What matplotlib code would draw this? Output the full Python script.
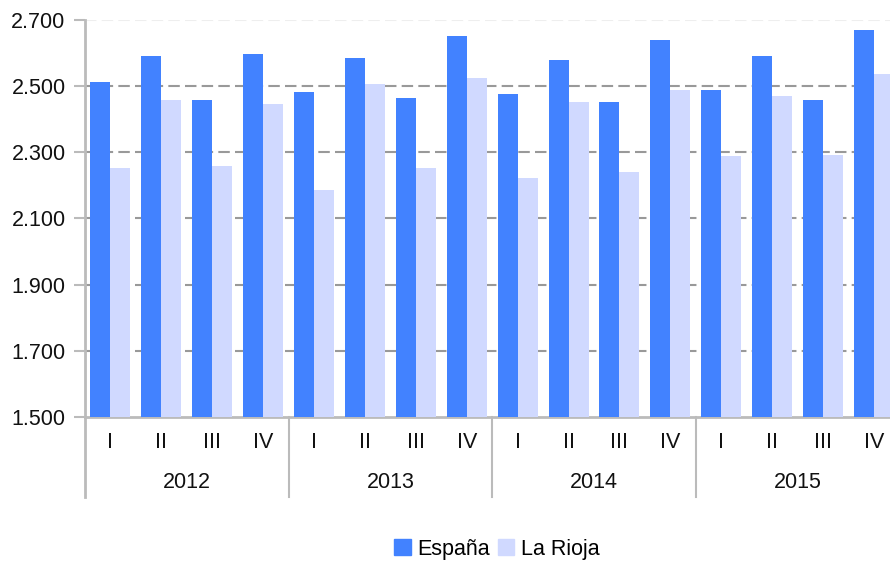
import matplotlib
matplotlib.use("Agg")
import matplotlib.pyplot as plt
from matplotlib.lines import Line2D
from matplotlib.patches import Patch
import numpy as np

plt.rcParams['font.family'] = ['Liberation Sans', 'DejaVu Sans']

years = ["2012", "2013", "2014", "2015"]
quarters = ["I", "II", "III", "IV"]
espana = [2513, 2591, 2458, 2597,
          2482, 2585, 2464, 2653,
          2475, 2579, 2452, 2640,
          2488, 2591, 2458, 2670]
la_rioja = [2253, 2458, 2260, 2446,
            2186, 2507, 2253, 2525,
            2222, 2452, 2241, 2488,
            2289, 2470, 2293, 2537]
yticks = [1500, 1700, 1900, 2100, 2300, 2500, 2700]
ytick_labels = ["1.500", "1.700", "1.900", "2.100", "2.300", "2.500", "2.700"]

W, H = 890, 563
fig = plt.figure(figsize=(W / 100, H / 100), dpi=100)
left_px, right_px, top_px, bot_px = 85, 890, 20, 417
ax = fig.add_axes([left_px / W, (H - bot_px) / H, (right_px - left_px) / W, (bot_px - top_px) / H])

FS = 15.5
cat_w = 50.9
n = len(espana)
x = np.arange(n)
bw = 20 / cat_w
c_es = "#4282FF"
c_lr = "#D0D9FF"
ax.bar(x - bw / 2, espana, width=bw, color=c_es, zorder=3, label="España")
ax.bar(x + bw / 2, la_rioja, width=bw, color=c_lr, zorder=3, label="La Rioja")

ax.set_ylim(1500, 2700)
ax.set_xlim(-0.5, -0.5 + (right_px - left_px) / cat_w)

for v in yticks[1:-1]:
    ax.axhline(v, color="#999999", lw=1.5, ls=(0, (5.5, 2.5)), zorder=1)
ax.axhline(2700, color="#eeeeee", lw=1.5, ls=(0, (5.5, 2.5)), zorder=1)

ax.set_yticks(yticks)
ax.set_yticklabels(ytick_labels, fontsize=FS, color="#111111")
ax.tick_params(axis="y", length=8, width=1.5, color="#bbbbbb", pad=6)
ax.set_xticks([])

for s in ["top", "right"]:
    ax.spines[s].set_visible(False)
ax.spines["left"].set_color("#bbbbbb")
ax.spines["left"].set_linewidth(2)
ax.spines["bottom"].set_color("#bbbbbb")
ax.spines["bottom"].set_linewidth(2)

ext = 80 / (bot_px - top_px)
trans = ax.get_xaxis_transform()
ax.add_line(Line2D([-0.5, -0.5], [0, -ext], transform=trans, color="#bbbbbb", lw=2, clip_on=False))
for i in range(1, len(years)):
    xs = i * 4 - 0.5
    ax.add_line(Line2D([xs, xs], [0, -ext], transform=trans, color="#bbbbbb", lw=1.5, clip_on=False))

q_y = -(442 - bot_px) / (bot_px - top_px)
y_y = -(483 - bot_px) / (bot_px - top_px)
for i in range(n):
    ax.text(x[i], q_y, quarters[i % 4], transform=trans, ha="center", va="center",
            fontsize=FS, color="#111111", clip_on=False)
for j, yr in enumerate(years):
    ax.text(j * 4 + 1.5, y_y, yr, transform=trans, ha="center", va="center",
            fontsize=FS, color="#111111", clip_on=False)

handles = [Patch(color=c_es), Patch(color=c_lr)]
fig.legend(handles, ["España", "La Rioja"], loc="center",
           bbox_to_anchor=(497 / W, 1 - 549 / H), ncol=2, frameon=False,
           fontsize=FS, handlelength=0.75, handleheight=0.75, handletextpad=0.3,
           columnspacing=0.4, borderpad=0)

fig.savefig("out.png", dpi=100)
